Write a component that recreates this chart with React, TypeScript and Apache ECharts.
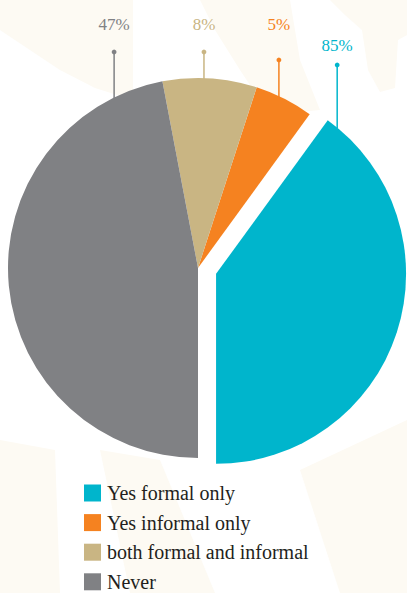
import React, { useEffect, useRef } from "react";
import * as echarts from "echarts";

const categories = ["Yes formal only", "Yes informal only", "both formal and informal", "Never"];
const values = [40, 5, 8, 47];
const labelTexts = ["85%", "5%", "8%", "47%"];
const colors = ["#00b5cc", "#f58220", "#c9b583", "#808184"];

// layout constants (not data)
const CX = 198;
const CY = 268;
const R = 190;
const OFFSET = 19;
const LABEL_ANGLE = [39.6, 25.2, 1.8, -26.2]; // degrees clockwise from 12 o'clock
const DOT_Y = [65, 60, 52, 52];
const TEXT_TOP = [37, 16, 16, 16];
const FONT = "Liberation Serif";
const CREAM = "#fdfaf3";

// faint decorative background shapes
const BG_SHAPES: number[][][] = [
  [[0, 0], [133, 0], [133, 100], [95, 88], [60, 70], [30, 50], [0, 30]],
  [[200, 0], [290, 0], [300, 60], [320, 110], [270, 115], [240, 70], [215, 30]],
  [[330, 0], [407, 0], [407, 35], [398, 40], [395, 88], [380, 92], [368, 70], [362, 30], [345, 15]],
  [[0, 440], [55, 450], [60, 593], [0, 593]],
  [[100, 450], [160, 460], [215, 593], [130, 593]],
  [[300, 470], [407, 420], [407, 593], [340, 593]],
];

export default function App() {
  const ref = useRef<HTMLDivElement>(null);
  useEffect(() => {
    if (!ref.current) return;
    const chart = echarts.init(ref.current, null, { renderer: "svg" });
    const total = values.reduce((a, b) => a + b, 0);
    let cur = 180;
    const graphics: any[] = BG_SHAPES.map((pts) => ({
      type: "polygon",
      shape: { points: pts },
      style: { fill: CREAM },
      z: -10,
      silent: true,
    }));
    const titles: any[] = [];
    values.forEach((v, i) => {
      const span = (v / total) * 360;
      const start = cur;
      const end = cur - span;
      cur = end;
      const mid = ((start + end) / 2) * Math.PI / 180;
      const off = i === 0 ? OFFSET : 0;
      const cx = CX + off * Math.sin(mid);
      const cy = CY - off * Math.cos(mid);
      const a = LABEL_ANGLE[i] * Math.PI / 180;
      const x = cx + R * Math.sin(a);
      const yEdge = cy - R * Math.cos(a);
      graphics.push({
        type: "line",
        shape: { x1: x, y1: yEdge + 1, x2: x, y2: DOT_Y[i] },
        style: { stroke: colors[i], lineWidth: 1.5 },
        silent: true,
      });
      graphics.push({
        type: "circle",
        shape: { cx: x, cy: DOT_Y[i], r: 2.4 },
        style: { fill: colors[i] },
        silent: true,
      });
      titles.push({
        text: labelTexts[i],
        left: x,
        top: TEXT_TOP[i],
        textAlign: "center",
        padding: 0,
        textStyle: {
          fontFamily: FONT,
          fontSize: 17,
          fontWeight: "normal",
          color: colors[i],
        },
      });
    });

    chart.setOption({
      animation: false,
      backgroundColor: "#ffffff",
      title: titles,
      legend: {
        orient: "vertical",
        left: 84,
        top: 483,
        height: 200,
        padding: 0,
        itemWidth: 17,
        itemHeight: 17,
        itemGap: 9.6,
        icon: "rect",
        selectedMode: false,
        data: categories,
        textStyle: {
          fontFamily: FONT,
          fontSize: 20,
          color: "#231f20",
          padding: [0, 0, 0, 1],
        },
      },
      graphic: graphics,
      series: [
        {
          type: "pie",
          center: [CX, CY],
          radius: R,
          startAngle: 270,
          clockwise: false,
          selectedMode: "single",
          selectedOffset: OFFSET,
          label: { show: false },
          labelLine: { show: false },
          emphasis: { disabled: true },
          itemStyle: { borderWidth: 0 },
          data: categories.map((name, i) => ({
            name,
            value: values[i],
            selected: i === 0,
            itemStyle: { color: colors[i] },
          })),
        },
      ],
    });
    return () => chart.dispose();
  }, []);
  return (
    <div
      ref={ref}
      style={{ position: "fixed", left: 0, top: 0, width: 407, height: 593 }}
    />
  );
}
